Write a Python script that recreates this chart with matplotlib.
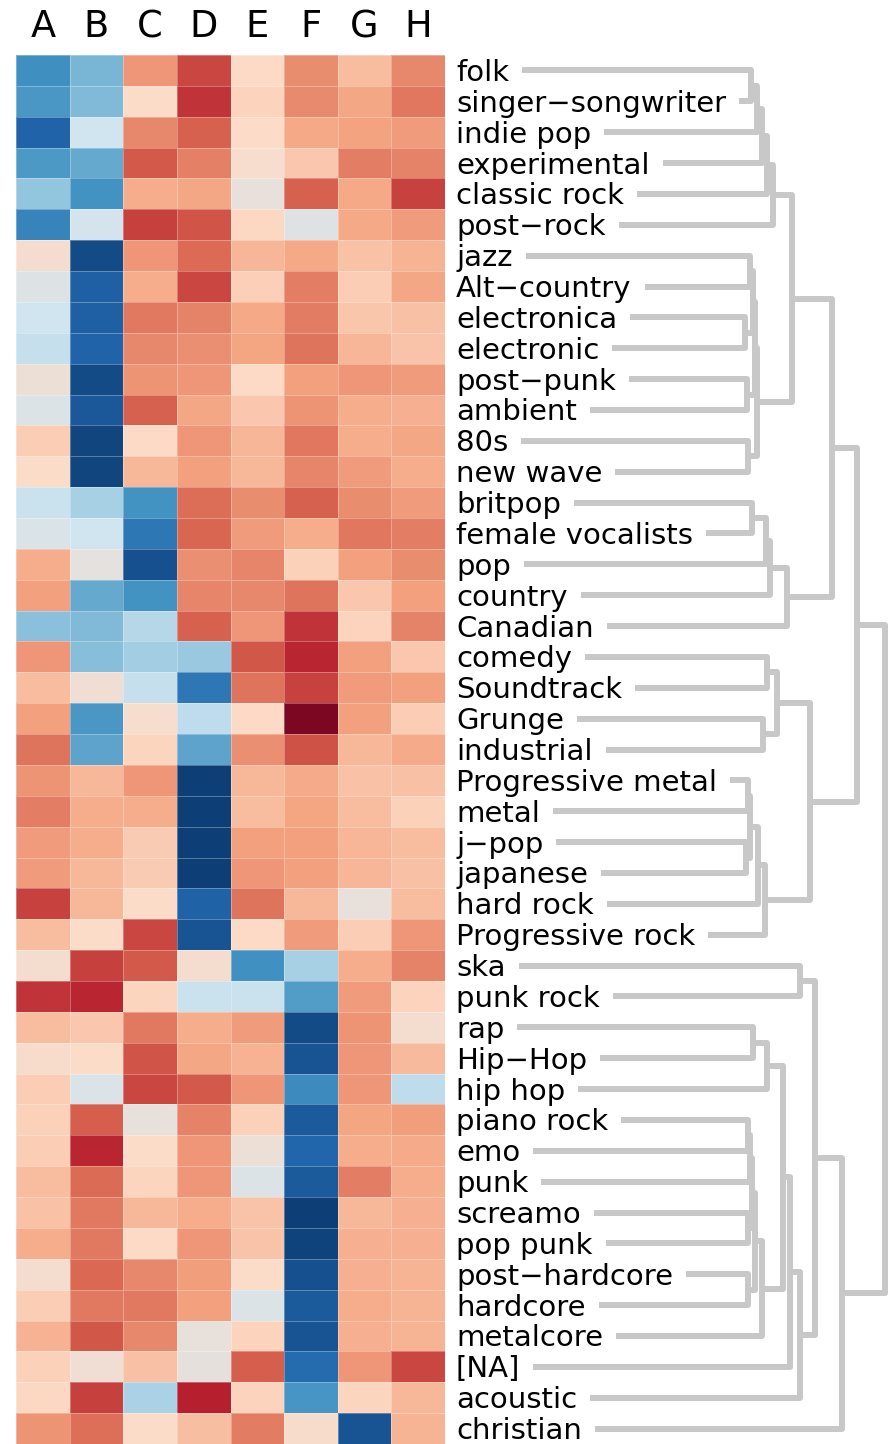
import matplotlib
matplotlib.use("Agg")
import matplotlib.pyplot as plt
import numpy as np
from matplotlib.colors import LinearSegmentedColormap
from matplotlib.transforms import ScaledTranslation

genres = ["folk", "singer−songwriter", "indie pop", "experimental", "classic rock",
          "post−rock", "jazz", "Alt−country", "electronica", "electronic", "post−punk",
          "ambient", "80s", "new wave", "britpop", "female vocalists", "pop", "country",
          "Canadian", "comedy", "Soundtrack", "Grunge", "industrial", "Progressive metal",
          "metal", "j−pop", "japanese", "hard rock", "Progressive rock", "ska", "punk rock",
          "rap", "Hip−Hop", "hip hop", "piano rock", "emo", "punk", "screamo", "pop punk",
          "post−hardcore", "hardcore", "metalcore", "[NA]", "acoustic", "christian"]
columns = ["A", "B", "C", "D", "E", "F", "G", "H"]

# scores per column, one value per genre (0 = low, 9 = high)
col_A = [1.9, 2.08, 0.96, 2.14, 3.0, 1.67, 4.8, 4.28, 4.0, 3.8, 4.64, 4.25, 5.25, 4.95, 3.9,
         4.2, 5.85, 6.07, 2.9, 6.22, 5.58, 6.07, 6.7, 6.25, 6.56, 6.12, 6.12, 7.4, 5.58, 4.8,
         7.6, 5.58, 4.88, 5.25, 5.2, 5.25, 5.58, 5.45, 5.87, 4.8, 5.25, 5.75, 5.2, 5.08, 6.25]
col_B = [2.68, 2.78, 4.0, 2.44, 2.0, 4.1, 0.5, 0.9, 0.9, 0.96, 0.5, 0.75, 0.4, 0.4, 3.34,
         4.0, 4.45, 2.44, 2.78, 2.88, 4.68, 2.08, 2.34, 5.63, 5.85, 5.85, 5.63, 5.63, 4.95, 7.45,
         7.8, 5.35, 4.93, 4.2, 7.0, 7.78, 6.85, 6.62, 6.62, 6.87, 6.62, 7.13, 4.68, 7.45, 6.78]
col_C = [6.22, 4.95, 6.4, 7.1, 5.85, 7.45, 6.22, 5.87, 6.62, 6.4, 6.25, 6.97, 5.0, 5.63, 2.0,
         1.4, 0.6, 2.0, 3.56, 3.25, 3.8, 4.82, 5.12, 6.22, 5.87, 5.3, 5.3, 4.95, 7.33, 7.1,
         5.1, 6.62, 7.17, 7.33, 4.52, 4.95, 5.1, 5.63, 5.0, 6.43, 6.62, 6.43, 5.5, 3.4, 4.93]
col_D = [7.32, 7.6, 6.97, 6.52, 5.95, 7.17, 6.85, 7.32, 6.47, 6.3, 6.22, 5.95, 6.22, 6.05, 6.8,
         6.92, 6.3, 6.45, 6.97, 3.1, 1.4, 3.7, 2.34, 0.3, 0.3, 0.3, 0.3, 0.93, 0.7, 4.8,
         3.9, 5.87, 5.97, 7.1, 6.47, 6.22, 6.22, 5.87, 6.22, 6.1, 6.05, 4.52, 4.48, 7.9, 5.55]
col_E = [5.0, 5.15, 4.98, 4.85, 4.52, 5.08, 5.67, 5.22, 5.92, 6.0, 5.02, 5.35, 5.67, 5.63, 6.33,
         6.12, 6.45, 6.43, 6.22, 7.13, 6.7, 5.02, 6.3, 5.63, 5.58, 6.07, 6.22, 6.7, 5.0, 1.95,
         3.9, 6.12, 5.75, 6.22, 5.2, 4.64, 4.25, 5.42, 5.42, 4.93, 4.25, 5.15, 7.0, 5.15, 6.58]
col_F = [6.35, 6.38, 5.92, 5.35, 6.97, 4.3, 5.93, 6.56, 6.58, 6.7, 6.05, 6.25, 6.67, 6.45, 6.97,
         5.87, 5.2, 6.7, 7.6, 7.78, 7.4, 8.7, 7.2, 5.9, 6.0, 6.05, 6.07, 5.63, 6.12, 3.34,
         2.2, 0.5, 0.7, 1.8, 0.78, 1.0, 0.8, 0.3, 0.37, 0.63, 0.78, 0.7, 1.15, 2.06, 4.88]
col_G = [5.58, 5.97, 6.02, 6.56, 5.92, 5.92, 5.45, 5.25, 5.4, 5.67, 6.2, 5.87, 5.85, 6.12, 6.35,
         6.67, 6.05, 5.35, 5.15, 6.07, 6.12, 6.07, 5.63, 5.45, 5.58, 5.67, 5.67, 4.52, 5.25, 5.85,
         6.12, 6.25, 6.22, 6.22, 6.0, 5.85, 6.56, 5.63, 5.8, 5.8, 5.85, 5.8, 6.22, 5.1, 0.7]
col_H = [6.43, 6.67, 6.15, 6.5, 7.4, 6.12, 5.7, 5.95, 5.5, 5.42, 6.12, 5.8, 5.97, 5.87, 6.15,
         6.56, 6.33, 6.07, 6.5, 5.35, 6.05, 5.25, 5.9, 5.5, 5.2, 5.58, 5.5, 5.58, 6.22, 6.5,
         5.15, 4.8, 5.6, 3.7, 6.1, 5.88, 5.85, 5.8, 5.8, 5.72, 5.72, 5.72, 7.32, 5.63, 5.72]

# row clustering: (left node, right node, height); leaves are 0..44,
# merge k creates node 45 + k
merges = [
    (0, 1, 1.1), (45, 2, 1.7), (46, 3, 2.2), (47, 4, 2.7), (48, 5, 3.3),
    (6, 7, 1.0), (8, 9, 0.5), (50, 51, 1.3), (10, 11, 0.7), (52, 53, 1.5),
    (12, 13, 0.8), (54, 55, 1.7), (49, 56, 5.2),
    (14, 15, 1.2), (58, 16, 2.6), (59, 17, 3.0), (60, 18, 4.7), (57, 61, 9.2),
    (19, 20, 2.7), (21, 22, 2.3), (63, 64, 3.7),
    (23, 24, 0.8), (25, 26, 0.6), (66, 67, 1.0), (68, 27, 1.8), (69, 28, 2.5),
    (65, 70, 7.0), (62, 71, 11.7),
    (29, 30, 6.0), (31, 32, 1.3), (74, 33, 2.7),
    (34, 35, 0.8), (76, 36, 1.0), (37, 38, 0.8), (77, 78, 1.2), (39, 40, 0.8),
    (79, 80, 1.5), (81, 41, 2.2), (75, 82, 4.3), (83, 42, 5.0), (84, 43, 6.0),
    (73, 85, 7.5), (86, 44, 10.2), (72, 87, 14.5),
]

scores = np.array([col_A, col_B, col_C, col_D, col_E, col_F, col_G, col_H]).T
n = len(genres)

cmap = LinearSegmentedColormap.from_list(
    "rdbu10", ["#053061", "#2166ac", "#4393c3", "#92c5de", "#d1e5f0",
               "#fddbc7", "#f4a582", "#d6604d", "#b2182b", "#67001f"])

W, H = 890, 1444
fig = plt.figure(figsize=(W / 100, H / 100), dpi=100)
top = 55

hm = fig.add_axes([16 / W, 0, 429 / W, (H - top) / H])
hm.pcolormesh(scores, cmap=cmap, vmin=0, vmax=9,
              edgecolors=(1, 1, 1, 0.3), linewidth=0.6)
hm.set_xlim(0, len(columns))
hm.set_ylim(n, 0)
hm.axis("off")
for j, c in enumerate(columns):
    hm.text(j + 0.5, 1 + 18 / (H - top), c, transform=hm.get_xaxis_transform(),
            ha="center", va="baseline", fontsize=26.5)

# dendrogram panel: x in merge-height units, row labels on its left
dg = fig.add_axes([445 / W, 0, 445 / W, (H - top) / H])
dg.set_xlim(-29.5, 15)
dg.set_ylim(n, 0)
dg.axis("off")

shift = ScaledTranslation(0, -0.105, fig.dpi_scale_trans)
labels = []
for i, g in enumerate(genres):
    t = dg.text(-28.4, i + 0.5, g, transform=dg.transData + shift,
                ha="left", va="baseline", fontsize=21)
    labels.append(t)

fig.canvas.draw()
renderer = fig.canvas.get_renderer()
inv = dg.transData.inverted()
pos = {}
for i, t in enumerate(labels):
    bb = t.get_window_extent(renderer)
    pos[i] = (inv.transform((bb.x1 + 13, 0))[0], i + 0.5)

line_kw = dict(color="#c8c8c8", lw=4.3, solid_joinstyle="round",
               solid_capstyle="butt")
for k, (a, b, h) in enumerate(merges):
    xa, ya = pos[a]
    xb, yb = pos[b]
    dg.plot([xa, h, h, xb], [ya, ya, yb, yb], **line_kw)
    pos[n + k] = (h, (ya + yb) / 2)

fig.savefig("out.png", dpi=100)
